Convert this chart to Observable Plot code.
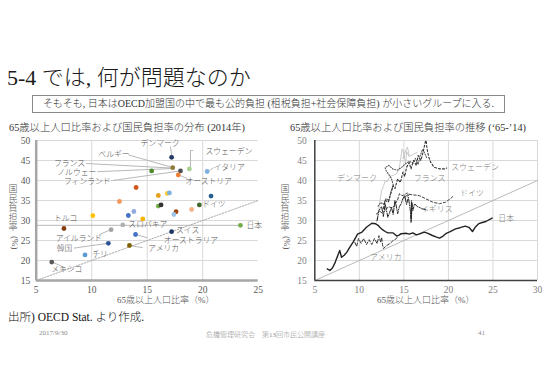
<!DOCTYPE html>
<html><head><meta charset="utf-8">
<script src="https://cdn.jsdelivr.net/npm/d3@7"></script>
<script src="https://cdn.jsdelivr.net/npm/@observablehq/plot@0.6"></script>
<style>
body{margin:0;background:#fff;}
#slide{position:relative;width:550px;height:385px;overflow:hidden;font-family:"Liberation Serif","DejaVu Serif","Noto Sans CJK JP",serif;color:#222;font-weight:300;}
.abs{position:absolute;white-space:nowrap;}
.yt{position:absolute;width:12px;font-size:9px;line-height:9.6px;color:#595959;text-align:center;}
.yt .rot{display:inline-block;transform:rotate(90deg);margin-top:5px;white-space:nowrap;}
svg text{font-weight:300;}
</style></head><body>
<div id="slide">
  <div class="abs" style="left:7px;top:59px;font-size:22px;color:#1a1a1a;">5-4 では, 何が問題なのか</div>
  <div class="abs" style="left:32px;top:95px;width:471px;height:16px;border:1.5px solid #8a8a8a;font-size:10px;line-height:16px;text-align:center;color:#333;">そもそも, 日本はOECD加盟国の中で最も公的負担 (租税負担+社会保障負担) が小さいグループに入る.</div>
  <div class="abs" style="left:9px;top:119px;font-size:10.3px;color:#333;">65歳以上人口比率および国民負担率の分布 (2014年)</div>
  <div class="abs" style="left:290px;top:119px;font-size:10.3px;color:#333;">65歳以上人口比率および国民負担率の推移 (‘65-’14)</div>
  <div id="left" class="abs" style="left:0;top:130px;"></div>
  <div id="right" class="abs" style="left:280px;top:130px;"></div>
  <div class="yt" style="left:7px;top:185px;">国<br>民<br>負<br>担<br>率<br><span class="rot">(%)</span></div>
  <div class="yt" style="left:279px;top:185px;">国<br>民<br>負<br>担<br>率<br><span class="rot">(%)</span></div>
  <div class="abs" style="left:117px;top:293px;font-size:9px;color:#595959;">65歳以上人口比率（%）</div>
  <div class="abs" style="left:377px;top:293px;font-size:9px;color:#595959;">65歳以上人口比率（%）</div>
  <div class="abs" style="left:8px;top:308px;font-size:11.5px;color:#111;">出所) OECD Stat. より作成.</div>
  <div class="abs" style="left:39px;top:329px;font-size:7px;color:#8c8c8c;">2017/9/30</div>
  <div class="abs" style="left:206px;top:329px;font-size:7px;color:#8c8c8c;">危機管理研究会　第13回市民公開講座</div>
  <div class="abs" style="left:478px;top:329px;font-size:7px;color:#8c8c8c;">41</div>
</div>
<script>
// ---------- shared ticks ----------
const yTicks = [15, 20, 25, 30, 35, 40, 45, 50];
const leftXTicks = [5, 10, 15, 20, 25];
const rightXTicks = [5, 10, 15, 20, 25, 30];

// ---------- left chart: 2014 distribution ----------
const ptX = [17.2, 17.3, 15.4, 18.0, 18.8, 17.8, 20.4, 14.0, 12.5, 16.0, 16.8, 17.0, 20.75, 19.7, 16.0, 16.25, 13.8, 13.3, 19.0, 17.6, 17.4, 10.1, 14.6, 7.5, 12.8, 11.75, 17.2, 13.95, 11.5, 13.4, 9.4, 6.4, 23.4];
const ptY = [45.8, 43.2, 42.4, 42.4, 42.9, 41.4, 42.25, 38.25, 34.75, 36.25, 36.75, 36.9, 36.1, 33.9, 33.6, 33.9, 32.25, 31.25, 32.75, 32.2, 31.5, 31.2, 30.4, 28.0, 28.9, 27.7, 27.2, 26.5, 24.3, 23.75, 21.4, 19.6, 28.8];
const ptColor = ["#203864", "#8f7a3a", "#4e8a2e", "#505050", "#a9d18e", "#ed7d31", "#7cafdd", "#d0571b", "#f1975a", "#e6a020", "#ffcd33", "#7cafdd", "#255e91", "#43682b", "#70ad47", "#333333", "#8faadc", "#4472c4", "#f4b183", "#9e480e", "#9dc3e6", "#ffc000", "#f5b400", "#843c0c", "#b0b0b0", "#a5a5a5", "#1f3864", "#4472c4", "#2f5597", "#7f6000", "#5b9bd5", "#595959", "#70ad47"];

const lblNames = ["デンマーク", "ベルギー", "フランス", "ノルウェー", "フィンランド", "スウェーデン", "イタリア", "オーストリア", "ドイツ", "トルコ", "スロバキア", "アイルランド", "韓国", "チリ", "メキシコ", "スイス", "オーストラリア", "アメリカ", "日本"];
const lblX = [14.4, 10.6, 6.6, 6.9, 7.5, 20.25, 21.0, 18.45, 19.95, 6.6, 13.3, 6.75, 6.85, 10.05, 6.35, 17.6, 16.5, 15.1, 23.95];
const lblY = [49.2, 46.4, 44.3, 42.1, 39.8, 47.3, 43.2, 39.8, 33.9, 30.4, 28.9, 25.4, 23.1, 21.6, 17.7, 27.4, 25.1, 23.1, 28.8];

const leadX1 = [13.3, 9.5, 10.5, 11.9, 18.9, 18.9, 20.63, 17.82, 10.64, 8.4, 6.35, 13.95, 17.1, 13.4, 5.0];
const leadY1 = [46.4, 44.25, 42.2, 40.0, 47.5, 47.5, 42.5, 41.4, 26.4, 23.1, 19.75, 26.5, 48.5, 23.75, 28.8];
const leadX2 = [17.3, 17.3, 17.3, 18.0, 18.9, 19.15, 20.99, 18.6, 11.7, 11.45, 7.64, 15.0, 17.2, 14.6, 23.4];
const leadY2 = [43.25, 43.1, 43.0, 42.4, 43.3, 47.5, 43.25, 40.5, 27.7, 24.3, 18.1, 25.7, 46.3, 23.2, 28.8];

const leftDiagX = [5, 25];
const leftDiagY = [15, 35];

// ---------- right chart: trajectories 1965-2014 ----------
const jpX = [6.4, 6.7, 7.0, 7.3, 7.6, 7.8, 8.0, 8.3, 8.6, 8.9, 9.3, 9.6, 9.8, 10.3, 10.8, 11.1, 11.4, 11.8, 12.1, 12.3, 12.6, 12.9, 13.2, 13.5, 13.8, 14.2, 14.5, 14.7, 15.3, 15.6, 16.0, 16.4, 16.7, 17.3, 17.7, 18.2, 18.6, 19.0, 19.4, 19.7, 20.2, 20.8, 21.3, 21.9, 22.3, 22.7, 23.0, 23.4, 23.8, 24.2, 24.9];
const jpY = [17.9, 17.5, 18.2, 19.6, 21.4, 22.5, 20.8, 21.3, 22.1, 23.2, 24.6, 25.8, 26.6, 27.1, 28.3, 28.8, 29.3, 29.2, 28.8, 28.3, 27.7, 27.25, 26.9, 26.9, 26.9, 26.1, 26.4, 26.7, 26.8, 26.6, 26.9, 26.4, 26.6, 27.1, 26.8, 26.25, 25.9, 25.6, 26.1, 26.7, 27.2, 27.9, 28.2, 28.6, 28.3, 27.25, 28.3, 29.2, 29.5, 29.75, 30.6];

const dkX = [11.9, 12.1, 12.3, 12.5, 12.7, 12.9, 13.1, 13.4, 13.8, 14.2, 14.5, 14.8, 15.0, 15.2, 15.3, 15.6, 15.4, 15.1, 14.9, 15.2, 15.6, 16.0, 16.5];
const dkY = [29.6, 31.5, 34.6, 37.5, 38.5, 40.0, 39.6, 41.0, 41.3, 41.7, 43.3, 47.9, 46.7, 44.2, 47.1, 46.2, 48.4, 47.0, 45.5, 47.5, 46.0, 46.5, 47.0];

const seX = [12.7, 12.9, 13.25, 13.5, 13.8, 14.0, 14.3, 14.6, 14.9, 15.1, 15.3, 15.6, 15.8, 16.1, 16.4, 16.6, 16.9, 17.2, 17.4, 17.5, 17.6, 17.8, 18.0, 18.4, 19.0, 19.6, 19.8];
const seY = [33.0, 35.0, 34.6, 36.5, 38.75, 38.0, 40.4, 39.5, 42.1, 41.0, 43.3, 44.5, 42.9, 45.0, 43.75, 46.25, 45.0, 47.5, 49.6, 50.0, 47.9, 45.8, 44.6, 43.3, 42.9, 42.9, 43.1];

const frX = [12.1, 12.4, 12.7, 13.0, 13.3, 13.5, 13.8, 13.6, 13.3, 13.0, 12.9, 13.3, 13.8, 14.3, 14.8, 15.2, 15.6, 16.0, 16.3, 16.6, 16.8, 17.1, 17.3, 17.6];
const frY = [33.6, 34.5, 34.0, 35.5, 35.0, 36.8, 39.0, 40.5, 41.5, 42.5, 43.2, 43.8, 42.8, 42.6, 43.4, 44.2, 44.8, 44.4, 45.5, 44.0, 46.0, 47.8, 47.0, 45.5];

const deX = [11.9, 12.3, 12.6, 13.0, 13.3, 13.7, 14.0, 14.3, 14.5, 14.8, 15.1, 15.4, 15.6, 15.3, 15.0, 15.5, 16.0, 16.7, 17.5, 18.2, 19.0, 19.7, 20.3, 20.6];
const deY = [31.6, 32.3, 31.8, 32.8, 33.5, 33.0, 34.0, 35.2, 36.7, 36.2, 36.5, 36.9, 36.4, 36.0, 35.6, 36.6, 36.4, 36.25, 35.4, 34.6, 34.2, 34.6, 35.6, 36.2];

const ukX = [12.0, 12.2, 12.5, 12.7, 12.9, 13.2, 13.4, 13.6, 13.8, 14.0, 14.2, 14.3, 14.5, 14.7, 14.9, 15.1, 15.3, 15.5, 15.7, 15.8, 15.85, 15.9, 15.8, 15.9, 16.0, 16.2, 16.5, 16.7, 17.2, 17.6];
const ukY = [30.0, 32.5, 33.5, 31.0, 34.2, 30.8, 32.0, 33.3, 31.5, 35.0, 33.0, 31.7, 33.5, 34.2, 35.5, 36.25, 34.0, 35.8, 33.0, 30.4, 35.0, 33.0, 29.5, 34.5, 32.5, 34.2, 33.5, 33.3, 32.8, 32.6];

const usX = [9.5, 9.7, 9.9, 10.2, 10.5, 10.8, 11.1, 11.4, 11.7, 12.0, 12.2, 12.4, 12.5, 12.6, 12.7, 12.9, 13.1, 13.4, 13.7, 14.0, 14.3];
const usY = [24.5, 23.5, 25.5, 24.3, 25.5, 24.0, 25.2, 24.0, 25.5, 24.2, 26.2, 24.5, 25.8, 24.0, 23.0, 23.4, 23.8, 24.2, 24.8, 25.2, 25.9];

const rLblNames = ["スウェーデン", "デンマーク", "フランス", "ドイツ", "イギリス", "日本", "アメリカ"];
const rLblX = [20.3, 7.5, 16.1, 21.3, 16.9, 25.6, 11.2];
const rLblY = [43.2, 40.4, 40.5, 36.7, 32.7, 30.4, 20.8];

const rightDiagX = [5, 30];
const rightDiagY = [15, 40];

// ---------- helpers ----------
const idx = a => a.map((_, i) => i);
const font = "'Liberation Serif','DejaVu Serif','Noto Sans CJK JP',serif";

// ---------- left plot ----------
const leftPlot = Plot.plot({
  width: 280, height: 175,
  marginLeft: 35.7, marginRight: 22.3, marginTop: 10, marginBottom: 25,
  style: {fontFamily: font, fontSize: "9.5px", color: "#595959", background: "transparent", overflow: "visible"},
  x: {domain: [5, 25], ticks: leftXTicks, tickSize: 0, tickPadding: 6, label: null},
  y: {domain: [15, 50], ticks: yTicks, tickSize: 0, tickPadding: 6, label: null},
  color: {type: "identity"},
  marks: [
    Plot.ruleY(yTicks.filter(d => d > 15), {stroke: "#d9d9d9", strokeWidth: 1}),
    Plot.ruleX(leftXTicks.filter(d => d > 5 && d < 25), {stroke: "#d9d9d9", strokeWidth: 1}),
    Plot.line(idx(leftDiagX), {x: i => leftDiagX[i], y: i => leftDiagY[i], stroke: "#a0a0a0", strokeWidth: 0.9, strokeDasharray: "1.5,1.5"}),
    Plot.link(idx(leadX1), {x1: i => leadX1[i], y1: i => leadY1[i], x2: i => leadX2[i], y2: i => leadY2[i], stroke: "#b0b0b0", strokeWidth: 0.9}),
    Plot.ruleX([5], {stroke: "#a6a6a6", strokeWidth: 2.5}),
    Plot.ruleY([15], {stroke: "#a6a6a6", strokeWidth: 2.5}),
    Plot.dot(idx(ptX), {x: i => ptX[i], y: i => ptY[i], fill: i => ptColor[i], r: 2.4, stroke: "none"}),
    Plot.text(idx(lblNames), {x: i => lblX[i], y: i => lblY[i], text: i => lblNames[i], textAnchor: "start", fontSize: 7.8, fill: "#555"})
  ]
});
document.getElementById("left").appendChild(leftPlot);

// ---------- right plot ----------
const rightPlot = Plot.plot({
  width: 270, height: 175,
  marginLeft: 34.3, marginRight: 13, marginTop: 10, marginBottom: 25,
  style: {fontFamily: font, fontSize: "9.5px", color: "#7f7f7f", background: "transparent", overflow: "visible"},
  x: {domain: [5, 30], ticks: rightXTicks, tickSize: 0, tickPadding: 6, label: null},
  y: {domain: [15, 50], ticks: yTicks, tickSize: 0, tickPadding: 8, label: null},
  marks: [
    Plot.ruleY(yTicks.filter(d => d > 15), {stroke: "#d9d9d9", strokeWidth: 1}),
    Plot.ruleX(rightXTicks.filter(d => d > 5), {stroke: "#d9d9d9", strokeWidth: 1}),
    Plot.line(idx(rightDiagX), {x: i => rightDiagX[i], y: i => rightDiagY[i], stroke: "#a8a8a8", strokeWidth: 0.8}),
    Plot.line(idx(dkX), {x: i => dkX[i], y: i => dkY[i], stroke: "#c4c4c4", strokeWidth: 0.9}),
    Plot.line(idx(frX), {x: i => frX[i], y: i => frY[i], stroke: "#555", strokeWidth: 1.1, strokeDasharray: "1,1.6"}),
    Plot.line(idx(seX), {x: i => seX[i], y: i => seY[i], stroke: "#333", strokeWidth: 1.1, strokeDasharray: "2,2"}),
    Plot.line(idx(deX), {x: i => deX[i], y: i => deY[i], stroke: "#444", strokeWidth: 1.0, strokeDasharray: "2.5,2"}),
    Plot.line(idx(ukX), {x: i => ukX[i], y: i => ukY[i], stroke: "#222", strokeWidth: 1.0, strokeDasharray: "4,1.5,1,1.5"}),
    Plot.line(idx(usX), {x: i => usX[i], y: i => usY[i], stroke: "#333", strokeWidth: 1.0, strokeDasharray: "3,2"}),
    Plot.line(idx(jpX), {x: i => jpX[i], y: i => jpY[i], stroke: "#222", strokeWidth: 1.4}),
    Plot.ruleX([5], {stroke: "#404040", strokeWidth: 1.5}),
    Plot.ruleY([15], {stroke: "#404040", strokeWidth: 1.5}),
    Plot.text(idx(rLblNames), {x: i => rLblX[i], y: i => rLblY[i], text: i => rLblNames[i], textAnchor: "start", fontSize: 8, fill: "#808080"})
  ]
});
document.getElementById("right").appendChild(rightPlot);
</script>
</body></html>
